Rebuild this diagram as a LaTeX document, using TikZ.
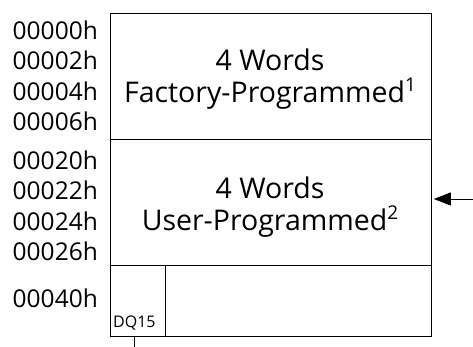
\documentclass[tikz,border=0pt]{standalone}
\usepackage{fontspec}
\setmainfont{Open Sans}
\usetikzlibrary{arrows.meta}
\newcommand{\fnmark}[1]{\raisebox{11pt}{\fontsize{19}{19}\selectfont #1}}
\begin{document}
\begin{tikzpicture}[x=1pt,y=-1pt,
  cell/.style={draw,line width=0.8pt,anchor=north west,inner sep=0pt},
  addr/.style={anchor=east,inner sep=0pt,font=\fontsize{24.5}{24.5}\selectfont},
  big/.style={align=center,font=\fontsize{28.5}{32}\selectfont},
  wire/.style={line width=0.8pt}]
\useasboundingbox (0,0) rectangle (473,347);
\node[cell,minimum width=321pt,minimum height=126pt] (fac) at (110,13) {};
\node[cell,minimum width=321pt,minimum height=126pt] (usr) at (110,139) {};
\node[cell,minimum width=55pt,minimum height=71pt] (dq) at (110,265) {};
\node[cell,minimum width=266pt,minimum height=71pt] (rest) at (165,265) {};
\node[big] (factxt) at (270,79) {4 Words\\Factory-Programmed\fnmark{1}};
\node[big] (usrtxt) at (270,207) {4 Words\\User-Programmed\fnmark{2}};
\node[anchor=base west,inner sep=0pt,font=\fontsize{16}{16}\selectfont] (dqtxt) at (113,327) {DQ15};
\node[addr] (a0) at (98,30) {00000h};
\node[addr] (a2) at (98,60) {00002h};
\node[addr] (a4) at (98,91) {00004h};
\node[addr] (a6) at (98,121) {00006h};
\node[addr] (a20) at (98,160) {00020h};
\node[addr] (a22) at (98,190) {00022h};
\node[addr] (a24) at (98,221) {00024h};
\node[addr] (a26) at (98,251) {00026h};
\node[addr] (a40) at (98,298) {00040h};
\coordinate (arr) at (473,199);
\coordinate (stem) at (134,347);
\draw[wire,-{Triangle[length=17pt,width=13pt]},shorten >=2pt] (arr) -- (arr -| usr.east);
\draw[wire] (stem) -- (stem |- dq.south);
\end{tikzpicture}
\end{document}
